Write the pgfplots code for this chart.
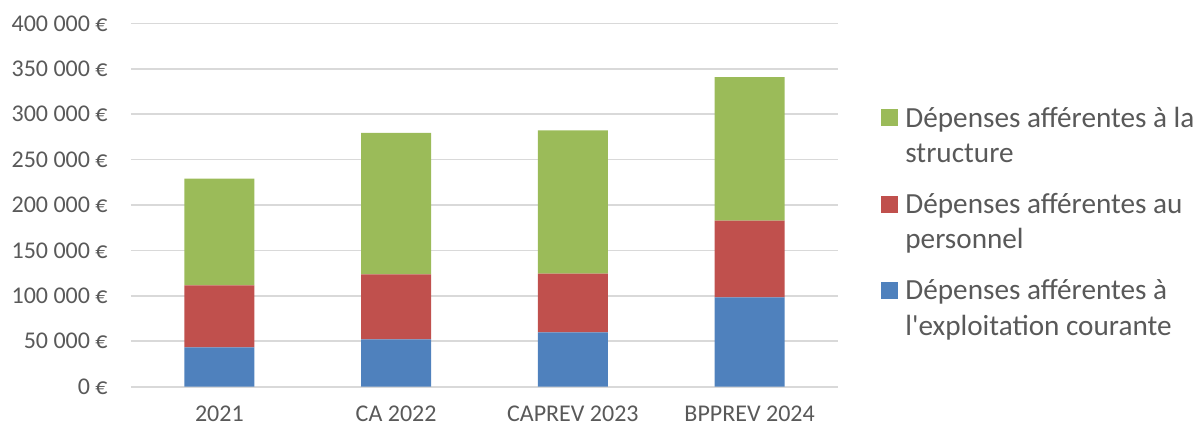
\documentclass[border=0pt]{standalone}
\usepackage{fontspec}
\setmainfont{Carlito}
\usepackage{pgfplots}
\pgfplotsset{compat=1.18}
\definecolor{cblue}{HTML}{4F81BD}
\definecolor{cred}{HTML}{C0504D}
\definecolor{cgreen}{HTML}{9BBB59}
\definecolor{cgrid}{HTML}{D9D9D9}
\definecolor{ctext}{HTML}{595959}
\newcommand{\ts}{\rule{0pt}{12pt}}
\newcommand{\bs}{\rule[-3pt]{0pt}{3pt}}
\begin{document}
\begin{tikzpicture}
\useasboundingbox (-65.5pt,-19.15pt) rectangle (536.5pt,193.35pt);
\begin{axis}[
  scale only axis,
  width=353.5pt, height=181.7pt,
  ybar stacked,
  bar width=35pt,
  xmin=-0.5, xmax=3.5,
  ymin=0, ymax=400000,
  scaled y ticks=false,
  xtick={0,1,2,3},
  xticklabels={2021, CA 2022, CAPREV 2023, BPPREV 2024},
  ytick={0,50000,100000,150000,200000,250000,300000,350000,400000},
  yticklabels={0~€, 50~000~€, 100~000~€, 150~000~€, 200~000~€, 250~000~€, 300~000~€, 350~000~€, 400~000~€},
  /pgf/number format/assume math mode=true,
  axis line style={draw=none},
  major tick length=0pt,
  ymajorgrids,
  grid style={cgrid, line width=0.8pt},
  tick label style={font=\fontsize{12}{14}\selectfont, text=ctext, inner sep=0pt},
  yticklabel style={anchor=east, xshift=-11.5pt},
  xticklabel style={anchor=north, yshift=-9.5pt},
  legend cell align=left,
  legend style={at={(1.0608,0.7815)}, anchor=north west, draw=none, fill=none, inner sep=0pt,
    font=\fontsize{14.6}{17.75}\selectfont, text=ctext, row sep=11.9pt, column sep=0pt,
    nodes={inner sep=0pt}, cells={align=left}},
  legend image code/.code={\path (0pt,-8.5pt); \fill[#1] (0pt,4pt) rectangle (8.5pt,12.5pt);},
  reverse legend,
]
\addplot[fill=cblue, draw=none] coordinates {(0,43400) (1,52200) (2,59900) (3,98400)};
\addplot[fill=cred, draw=none] coordinates {(0,68200) (1,71500) (2,64500) (3,84300)};
\addplot[fill=cgreen, draw=none] coordinates {(0,117400) (1,155800) (2,157800) (3,158200)};
\legend{\ts\hspace{3.5pt}Dépenses afférentes à\\\hspace{3.5pt}l\textquotesingle exploitation courante\bs,
        \ts\hspace{3.5pt}Dépenses afférentes au\\\hspace{3.5pt}personnel\bs,
        \ts\hspace{3.5pt}Dépenses afférentes à la\\\hspace{3.5pt}structure\bs}
\end{axis}
\end{tikzpicture}
\end{document}
